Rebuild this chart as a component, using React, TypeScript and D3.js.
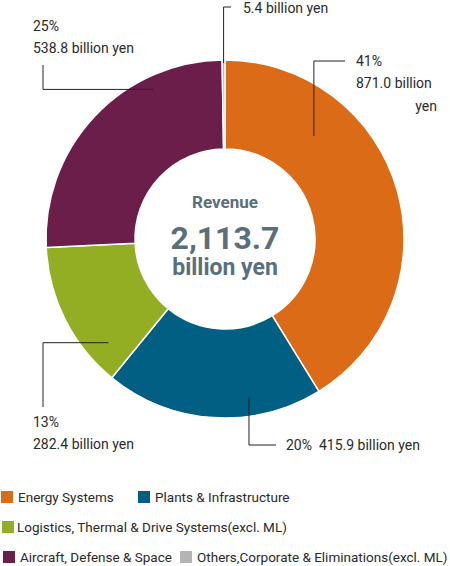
import { useEffect, useRef } from "react";
import * as d3 from "d3";

// segment revenue, billion yen (clockwise from 12 o'clock)
const segments = [
  "Energy Systems",
  "Plants & Infrastructure",
  "Logistics, Thermal & Drive Systems(excl. ML)",
  "Aircraft, Defense & Space",
  "Others,Corporate & Eliminations(excl. ML)",
];
const revenue = [871.0, 415.9, 282.4, 538.8, 5.4];
const shares = ["41%", "20%", "13%", "25%", ""];
const colors = ["#dc6b17", "#005f82", "#93ae22", "#6b1e4a", "#b4b4b4"];
const totalLabel = ["Revenue", "2,113.7", "billion yen"];

const W = 450;
const H = 566;
const FONT = "Roboto, 'Noto Sans', sans-serif";

export default function App() {
  const svgRef = useRef<SVGSVGElement>(null);

  useEffect(() => {
    document.body.style.margin = "0";
    if (!svgRef.current) return;
    const svg = d3.select(svgRef.current);
    svg.selectAll("*").remove();

    const cx = 225;
    const cy = 239;
    const outerR = 179;
    const innerR = 90;

    const pie = d3
      .pie<number>()
      .sort(null)
      .value((d) => d);
    const arcs = pie(revenue);
    const arc = d3
      .arc<d3.PieArcDatum<number>>()
      .innerRadius(innerR)
      .outerRadius(outerR);

    const g = svg.append("g").attr("transform", `translate(${cx},${cy})`);

    g.selectAll("path")
      .data(arcs)
      .join("path")
      .attr("d", arc)
      .attr("fill", (_, i) => colors[i])
      .attr("stroke", "#fff")
      .attr("stroke-width", 1.5);

    // point on the ring at an angle (degrees clockwise from top)
    const polar = (deg: number, r: number): [number, number] => {
      const a = (deg * Math.PI) / 180;
      return [r * Math.sin(a), -r * Math.cos(a)];
    };
    const deg = (d: d3.PieArcDatum<number>, t: number) =>
      ((d.startAngle + (d.endAngle - d.startAngle) * t) * 180) / Math.PI;

    // leader lines: anchor (fraction of slice, radius) -> elbow -> end, in chart coords
    const leaders = [
      { t: 0.275, r: 136, path: (p: [number, number]) => [p, [p[0], 61 - cy], [345 - cx, 61 - cy]] },
      { t: 0.325, r: 160, path: (p: [number, number]) => [p, [p[0], 445 - cy], [276 - cx, 445 - cy]] },
      { t: 0.19, r: 156, path: (p: [number, number]) => [p, [43 - cx, p[1]], [43 - cx, 407 - cy]] },
      { t: 0.73, r: 166, path: (p: [number, number]) => [p, [43 - cx, p[1]], [43 - cx, 65 - cy]] },
      { t: 0.5, r: 176, path: (p: [number, number]) => [p, [p[0], 7 - cy], [231 - cx, 7 - cy]] },
    ];

    const line = d3.line();
    leaders.forEach((l, i) => {
      const p = polar(deg(arcs[i], l.t), l.r);
      g.append("path")
        .attr("d", line(l.path(p) as [number, number][]))
        .attr("fill", "none")
        .attr("stroke", "#222")
        .attr("stroke-width", 1);
    });

    const fmt = d3.format(".1f");
    const labelText = (x: number, y: number, s: string, anchor = "start") =>
      svg
        .append("text")
        .attr("x", x)
        .attr("y", y)
        .attr("text-anchor", anchor)
        .attr("font-family", FONT)
        .attr("font-size", 14)
        .attr("fill", "#2a2a2a")
        .text(s);

    // Energy
    labelText(356, 66, shares[0]);
    labelText(356, 88, `${fmt(revenue[0])} billion`);
    labelText(437, 111, "yen", "end");
    // Plants
    labelText(286, 450, `${shares[1]}  ${fmt(revenue[1])} billion yen`).attr("xml:space", "preserve");
    // Logistics
    labelText(33, 427, shares[2]);
    labelText(33, 449, `${fmt(revenue[2])} billion yen`);
    // Aircraft
    labelText(33, 31, shares[3]);
    labelText(33, 53, `${fmt(revenue[3])} billion yen`);
    // Others
    labelText(243, 13, `${fmt(revenue[4])} billion yen`);

    // centre total
    const centre = svg
      .append("g")
      .attr("font-family", FONT)
      .attr("font-weight", "bold")
      .attr("fill", "#5a6f7b")
      .attr("text-anchor", "middle");
    centre.append("text").attr("x", cx).attr("y", 208).attr("font-size", 17).text(totalLabel[0]);
    centre.append("text").attr("x", cx).attr("y", 249).attr("font-size", 32).text(totalLabel[1]);
    centre.append("text").attr("x", cx).attr("y", 275).attr("font-size", 23).text(totalLabel[2]);

    // legend
    const legendPos = [
      { x: 1, y: 497 },
      { x: 138, y: 497 },
      { x: 2, y: 527 },
      { x: 3, y: 557 },
      { x: 180, y: 557 },
    ];
    const legend = svg
      .append("g")
      .selectAll("g")
      .data(segments)
      .join("g")
      .attr("transform", (_, i) => `translate(${legendPos[i].x},${legendPos[i].y})`);
    legend
      .append("rect")
      .attr("x", 0)
      .attr("y", -6)
      .attr("width", 12)
      .attr("height", 12)
      .attr("fill", (_, i) => colors[i]);
    legend
      .append("text")
      .attr("x", (_, i) => (i === 2 ? 15 : 17))
      .attr("y", 5)
      .attr("font-family", FONT)
      .attr("font-size", 13.5)
      .attr("fill", "#2a2a2a")
      .text((d) => d);
  }, []);

  return (
    <svg
      ref={svgRef}
      width={W}
      height={H}
      style={{ display: "block", background: "#fff" }}
      role="img"
      aria-label="Revenue by segment donut chart"
    />
  );
}
